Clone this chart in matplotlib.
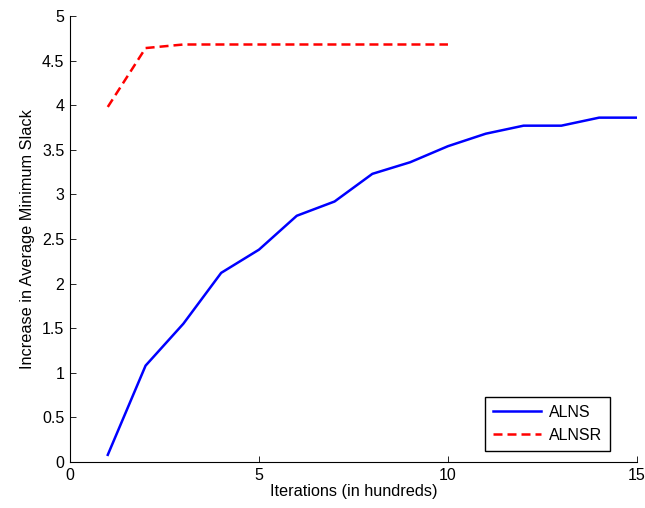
import numpy as np
import matplotlib.pyplot as plt

plt.rcParams['font.family'] = ['Liberation Sans', 'DejaVu Sans']

# iterations (hundreds)
iters_alns = [1, 2, 3, 4, 5, 6, 7, 8, 9, 10, 11, 12, 13, 14, 15]
alns = [0.08, 1.08, 1.55, 2.12, 2.38, 2.76, 2.92, 3.23, 3.36, 3.54, 3.68, 3.77, 3.77, 3.86, 3.86]

iters_alnsr = [1, 2, 3, 4, 5, 6, 7, 8, 9, 10]
alnsr = [3.98, 4.64, 4.68, 4.68, 4.68, 4.68, 4.68, 4.68, 4.68, 4.68]

fig = plt.figure(figsize=(6.45, 5.08), dpi=100)
ax = fig.add_axes([0.1085, 0.0906, 0.879, 0.878])

ax.plot(iters_alns, alns, color='#0000ff', lw=1.8, label='ALNS')
ax.plot(iters_alnsr, alnsr, color='#ff0000', lw=1.8, ls=(0, (3.6, 2.0)), label='ALNSR')

ax.set_xlim(0, 15)
ax.set_ylim(0, 5)
ax.set_xticks([0, 5, 10, 15])
ax.set_yticks(np.arange(0, 5.01, 0.5))
ax.set_yticklabels(['0', '0.5', '1', '1.5', '2', '2.5', '3', '3.5', '4', '4.5', '5'])
ax.tick_params(direction='in', length=4, width=0.6, labelsize=11.5, pad=4)
ax.spines['top'].set_visible(False)
ax.spines['right'].set_visible(False)
ax.spines['left'].set_linewidth(0.8)
ax.spines['bottom'].set_linewidth(0.8)

ax.set_xlabel('Iterations (in hundreds)', fontsize=11.7, labelpad=1)
ax.set_ylabel('Increase in Average Minimum Slack', fontsize=11.7, labelpad=5)

leg = ax.legend(loc='lower right', bbox_to_anchor=(0.952, 0.025), borderaxespad=0,
                fancybox=False, framealpha=1, edgecolor='black', fontsize=11.5,
                handlelength=3.0, handletextpad=0.5, borderpad=0.5, labelspacing=0.5)
leg.get_frame().set_linewidth(1.0)

plt.savefig('out.png', dpi=100)
